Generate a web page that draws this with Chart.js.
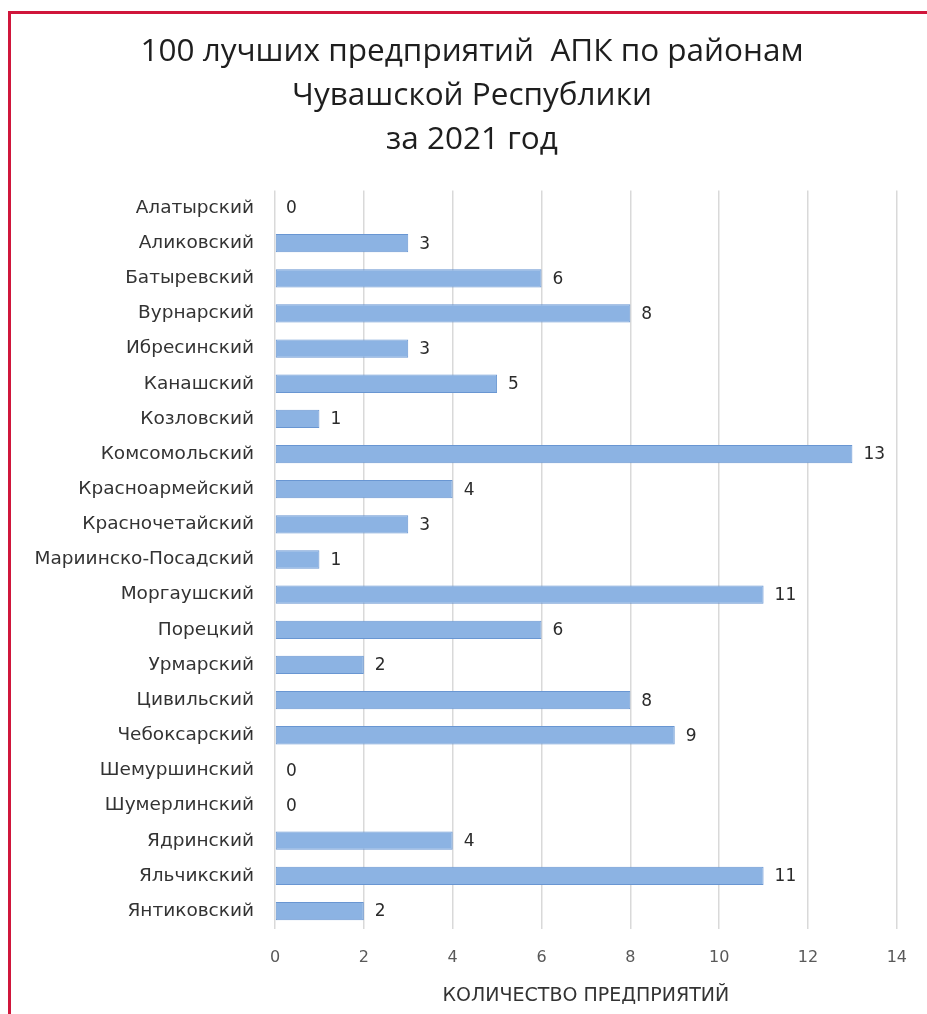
<!DOCTYPE html>
<html>
<head>
<meta charset="utf-8">
<script src="https://cdn.jsdelivr.net/npm/chart.js@4/dist/chart.umd.min.js"></script>
<style>
  html, body { margin: 0; padding: 0; background: #ffffff; }
  #wrap { position: relative; width: 927px; height: 1014px; overflow: hidden; }
  #frame { position: absolute; left: 8px; top: 11px; width: 940px; height: 1100px;
           border-left: 3px solid #d0163b; border-top: 3px solid #d0163b; pointer-events: none; }
  canvas { position: absolute; left: 0; top: 0; }
</style>
</head>
<body>
<div id="wrap">
  <canvas id="c" width="927" height="1014"></canvas>
  <div id="frame"></div>
</div>
<script>
const titleLines = ["100 лучших предприятий  АПК по районам", "Чувашской Республики", "за 2021 год"];
const categories = ["Алатырский", "Аликовский", "Батыревский", "Вурнарский", "Ибресинский", "Канашский",
  "Козловский", "Комсомольский", "Красноармейский", "Красночетайский", "Мариинско-Посадский",
  "Моргаушский", "Порецкий", "Урмарский", "Цивильский", "Чебоксарский", "Шемуршинский",
  "Шумерлинский", "Ядринский", "Яльчикский", "Янтиковский"];
const values = [0, 3, 6, 8, 3, 5, 1, 13, 4, 3, 1, 11, 6, 2, 8, 9, 0, 0, 4, 11, 2];
const xTickValues = [0, 2, 4, 6, 8, 10, 12, 14];
const axisTitle = "КОЛИЧЕСТВО ПРЕДПРИЯТИЙ";

const PAD_LEFT = 16, PAD_RIGHT = 29, PAD_BOTTOM = 4;
const TITLE_LEFT = 46;
const PLOT_LEFT = 275;
const PLOT_BOTTOM = 928.6;

const valueLabels = {
  id: 'valueLabels',
  afterLayout(chart) {
    if (chart.titleBlock) chart.titleBlock.left = TITLE_LEFT;
  },
  afterDatasetsDraw(chart) {
    const ctx = chart.ctx;
    const meta = chart.getDatasetMeta(0);
    ctx.save();
    ctx.font = '17px "DejaVu Sans"';
    ctx.fillStyle = '#2b2b2b';
    ctx.textAlign = 'left';
    ctx.textBaseline = 'middle';
    meta.data.forEach((bar, i) => {
      ctx.fillText(String(values[i]), bar.x + 11, bar.y + 1);
    });
    ctx.restore();
  }
};

new Chart(document.getElementById('c'), {
  type: 'bar',
  data: {
    labels: categories,
    datasets: [{
      data: values,
      backgroundColor: '#8cb3e3',
      borderColor: '#6996d2',
      borderWidth: 1,
      borderSkipped: false,
      categoryPercentage: 1,
      barPercentage: 0.52
    }]
  },
  options: {
    indexAxis: 'y',
    responsive: false,
    animation: false,
    devicePixelRatio: 1,
    layout: { padding: { left: PAD_LEFT, right: PAD_RIGHT, top: 0, bottom: PAD_BOTTOM } },
    plugins: {
      legend: { display: false },
      tooltip: { enabled: false },
      title: {
        display: true,
        text: titleLines,
        color: '#1e1e1e',
        font: { family: '"Open Sans"', size: 31.5, weight: 'normal', lineHeight: 44 / 31.5 },
        padding: { top: 30, bottom: 28.4 }
      }
    },
    scales: {
      x: {
        min: 0, max: 14,
        afterBuildTicks(scale) { scale.ticks = xTickValues.map(v => ({ value: v })); },
        afterFit(scale) { scale.height = 1014 - PAD_BOTTOM - PLOT_BOTTOM; },
        grid: { color: '#d9d9d9', lineWidth: 1.5, drawTicks: false },
        border: { display: false },
        ticks: { color: '#595959', font: { family: '"DejaVu Sans"', size: 16 }, padding: 20 },
        title: {
          display: true, text: axisTitle, color: '#333333',
          font: { family: '"DejaVu Sans"', size: 19 }, padding: { top: 4, bottom: 3 }
        }
      },
      y: {
        afterFit(scale) { scale.width = PLOT_LEFT - PAD_LEFT; },
        grid: { display: false, drawTicks: false },
        border: { display: false },
        ticks: { autoSkip: false, color: '#333333', font: { family: '"DejaVu Sans"', size: 18.5 }, padding: 21 }
      }
    }
  },
  plugins: [valueLabels]
});
</script>
</body>
</html>
